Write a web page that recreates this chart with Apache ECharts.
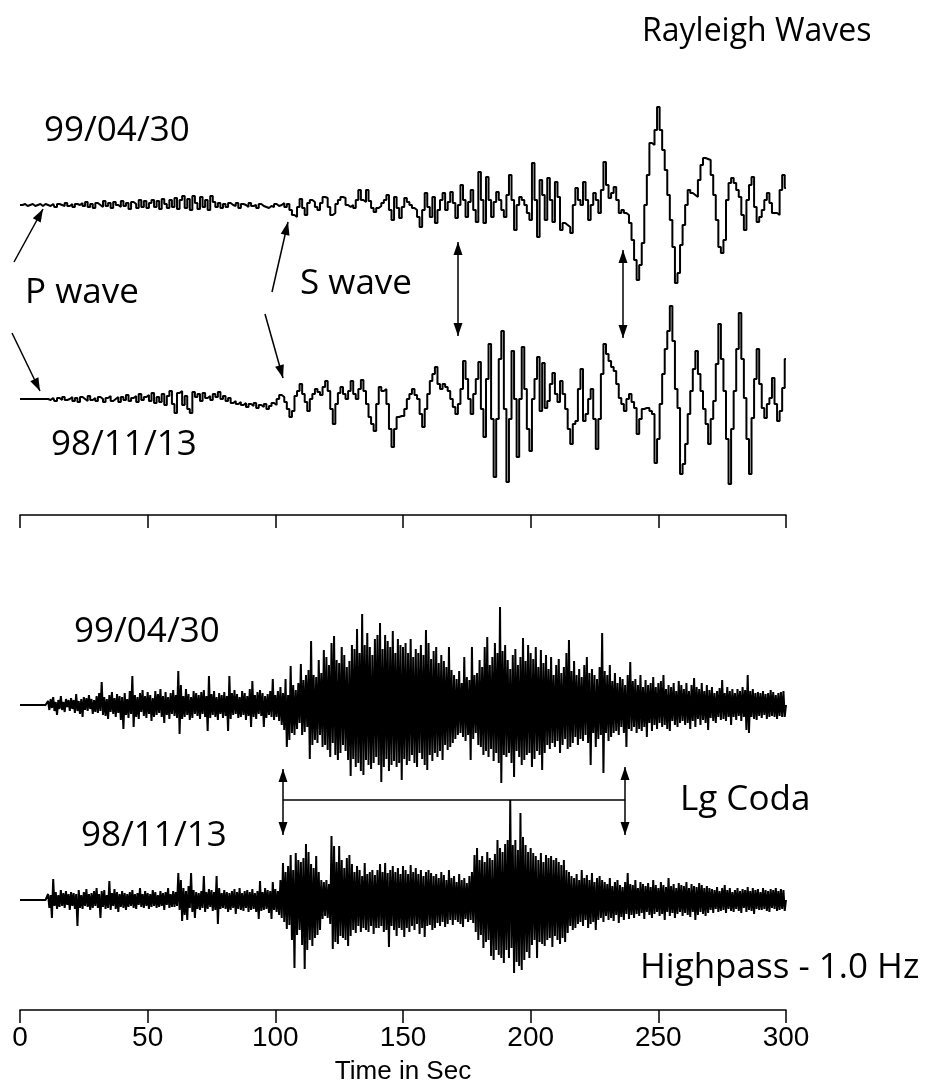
<!DOCTYPE html>
<html><head><meta charset="utf-8">
<script src="https://cdn.jsdelivr.net/npm/echarts@6/dist/echarts.min.js"></script>
<style>html,body{margin:0;padding:0;background:#fff}#c{width:931px;height:1089px}</style>
</head><body><div id="c"></div>
<script>
// ---- data ----
const timeTicks = [0, 50, 100, 150, 200, 250, 300];
const axisTitle = 'Time in Sec';
const lpStep = 1;    // seconds per sample, long-period traces
const hpStep = 0.5;  // seconds per sample, highpass traces

// Long-period (Rayleigh) trace, 99/04/30
const lp990430 = [
0,0,1,-1,0,1,-1,0,1,-1,
1,0,-1,1,-2,1,0,-1,2,-1,
1,-2,1,0,2,-1,3,-2,1,-3,
2,0,-2,4,-1,2,-3,3,0,-2,
4,-1,2,-4,3,1,-3,5,-2,4,
-3,2,5,-2,4,-4,6,1,-3,5,
-2,7,-4,5,9,-3,6,-5,9,2,
-4,8,-2,5,-5,9,3,-2,2,-3,
1,-2,2,0,-1,2,-3,1,0,-2,
2,-1,0,-3,1,-1,-2,-3,-1,-2,
1,-1,0,2,-2,1,-5,-10,-12,-2,
6,-3,-10,2,5,3,-2,-5,2,8,
7,-2,-10,-8,1,5,8,7,0,-2,
0,-3,5,15,5,3,15,4,-3,-7,
-3,-1,2,5,10,-5,-15,8,-3,-13,
-2,7,3,0,-3,-5,-12,-22,-5,12,
-2,-12,8,-18,-5,5,12,-5,3,13,
2,-13,0,20,5,-12,3,15,-5,-17,
33,5,-18,28,5,-12,3,13,5,-5,
-12,10,30,5,-25,0,8,5,0,-8,
-15,42,5,-32,25,10,-15,27,5,-17,
23,8,-25,-18,-20,-22,-28,0,17,5,
0,23,5,-15,0,12,5,-8,15,43,
20,7,12,18,5,-8,-5,-8,-10,-18,
-35,-55,-75,-60,-38,0,30,62,60,75,
98,75,55,35,10,-15,-42,-78,-68,-40,
-20,0,15,12,10,8,25,40,47,46,
45,30,10,-15,-42,-48,-35,5,22,27,
22,15,8,-10,-25,5,20,28,-2,-17,
-12,-5,5,12,2,-8,-8,-10,15,30,
17];

// Long-period (Rayleigh) trace, 98/11/13
const lp981113 = [
0,0,0,0,0,0,0,0,0,0,
0,0,-1,1,-2,1,-1,2,-1,0,
2,-2,1,-3,2,0,-2,3,-1,1,
-2,2,0,-3,1,3,-2,0,2,-3,
2,-1,4,-2,1,3,-3,5,-1,2,
4,-2,6,-4,2,-3,5,-6,3,8,
-5,-14,6,8,-6,3,-10,-14,7,2,
5,-2,6,1,3,-1,5,2,7,0,
3,-2,1,-4,-2,-5,-3,-6,-4,-8,
-5,-7,-4,-9,-6,-8,-5,-10,-7,-4,
-6,0,4,2,-3,-10,-18,-12,3,8,
15,5,-3,-12,0,5,10,7,4,12,
18,8,-10,-25,-5,6,12,5,0,8,
18,5,0,10,19,8,-5,-18,-25,-32,
-5,12,8,10,-5,-30,-48,-30,-18,-17,
-17,-10,0,5,10,4,0,-15,-28,-10,
5,18,25,32,15,10,15,12,8,0,
-8,-15,-5,10,38,20,0,-15,5,20,
37,-10,-38,20,55,-20,-78,-20,40,68,
-10,-83,-20,48,0,-58,0,52,10,-30,
-52,0,20,42,-12,36,-9,-2,15,26,
5,-3,18,5,-10,-30,-45,-25,-22,10,
30,-22,-15,0,10,-20,-50,-20,25,55,
45,38,32,28,15,1,-5,-12,0,5,
-3,-9,-35,-20,-10,-9,-9,-12,-15,-64,
-40,-5,25,50,68,93,58,10,-9,-75,
-65,-45,-15,8,30,48,25,8,-10,-25,
-45,-20,-2,35,75,40,8,-40,-85,-30,
8,50,86,40,1,-40,-75,-19,20,50,
15,-9,-19,-5,1,21,-5,-22,-12,11,
40];

// Highpass 1.0 Hz trace, 99/04/30
const hp990430 = [
0,0,0,0,0,0,0,0,0,0,0,0,0,0,0,0,0,0,0,0,
0,0,4,-5,6,-3,8,-6,3,-10,5,-4,9,-5,3,-7,6,-2,5,-6,
7,-4,5,-8,11,-6,4,-9,6,-12,8,-5,7,-6,10,-4,6,-9,5,-7,
9,-8,12,-6,23,-10,8,-11,6,-14,10,-7,13,-9,7,-12,11,-8,9,-15,
8,-24,12,-10,6,-13,14,-9,29,-22,10,-12,8,-14,12,-7,15,-11,9,-13,
13,-9,10,-16,7,-12,14,-10,11,-8,16,-12,9,-18,13,-10,8,-14,12,-9,
15,-11,10,-13,34,-29,20,-14,9,-12,16,-10,11,-15,8,-13,14,-9,12,-11,
10,-14,13,-9,15,-12,9,-26,29,-13,11,-10,14,-12,8,-15,12,-9,10,-13,
13,-11,9,-26,29,-14,12,-10,15,-9,11,-13,8,-12,14,-10,12,-15,9,-11,
16,-22,24,-12,10,-14,13,-9,15,-11,12,-22,9,-13,11,-10,14,-12,26,-15,
10,-12,14,-16,18,-20,12,-25,26,-42,10,-35,39,-28,20,-30,15,-24,22,-18,
41,-30,25,-27,30,-22,35,-54,64,-40,30,-35,28,-38,45,-30,32,-42,55,-40,
48,-45,40,-52,62,-38,69,-50,45,-55,42,-48,58,-40,50,-46,38,-55,44,-71,
60,-54,56,-62,76,-58,52,-66,91,-70,60,-55,72,-60,58,-64,50,-58,66,-52,
70,-60,82,-77,56,-62,70,-54,64,-66,58,-60,74,-56,52,-62,66,-58,60,-75,
58,-54,62,-60,52,-56,66,-50,48,-58,56,-62,52,-48,60,-54,50,-60,75,-65,
62,-50,46,-56,54,-48,58,-52,42,-46,50,-55,44,-40,38,-45,58,-42,35,-38,
30,-34,26,-30,34,-28,22,-32,48,-36,28,-30,25,-55,58,-34,30,-28,32,-40,
45,-42,38,-50,58,-46,68,-52,40,-44,48,-56,62,-48,52,-58,98,-78,54,-50,
60,-52,45,-48,36,-58,50,-72,56,-46,40,-52,48,-60,67,-55,44,-50,60,-48,
52,-62,46,-54,58,-46,38,-50,55,-65,42,-48,50,-40,36,-44,48,-38,30,-42,
40,-36,46,-48,32,-40,38,-34,52,-44,65,-42,34,-38,44,-32,30,-40,36,-34,
28,-36,40,-30,48,-38,32,-60,36,-28,30,-42,26,-34,38,-30,72,-68,34,-28,
30,-36,40,-32,24,-28,32,-26,22,-30,28,-22,26,-28,20,-42,30,-24,43,-26,
24,-22,26,-28,20,-24,30,-26,18,-22,25,-32,20,-18,22,-26,28,-20,18,-24,
22,-18,24,-22,30,-20,16,-24,20,-26,18,-16,22,-20,14,-22,24,-18,20,-16,
16,-20,22,-18,14,-24,20,-16,27,-22,18,-14,16,-20,22,-15,14,-18,20,-25,
15,-13,18,-16,12,-18,14,-12,17,-15,25,-14,12,-16,18,-12,14,-20,16,-12,
12,-15,16,-11,14,-16,18,-12,15,-25,30,-28,14,-12,16,-14,12,-15,13,-11,
12,-13,14,-10,11,-14,12,-12,15,-11,13,-12,10,-14,12,-11,13,-12,14,-12,
0];

// Highpass 1.0 Hz trace, 98/11/13
const hp981113 = [
0,0,0,0,0,0,0,0,0,0,0,0,0,0,0,0,0,0,0,0,
0,0,6,-8,5,-18,21,-6,8,-9,5,-7,10,-6,7,-8,9,-5,6,-10,
8,-6,7,-9,6,-26,10,-8,5,-9,8,-6,11,-7,6,-10,7,-8,9,-6,
12,-8,6,-18,9,-7,10,-9,5,-8,19,-10,7,-6,11,-9,8,-12,6,-7,
9,-8,7,-10,6,-7,8,-6,10,-8,6,-9,7,-5,12,-7,6,-8,9,-6,
7,-9,6,-7,10,-6,8,-8,5,-7,9,-6,7,-10,8,-5,12,-8,6,-7,
9,-7,8,-6,27,-10,20,-21,12,-15,9,-20,14,-8,27,-12,10,-18,8,-9,
7,-10,9,-8,24,-12,8,-9,11,-7,10,-11,8,-10,24,-24,12,-9,7,-8,
10,-9,8,-12,7,-10,9,-8,11,-14,8,-9,12,-10,7,-11,9,-8,10,-12,
8,-10,11,-9,7,-12,9,-19,19,-11,8,-10,12,-9,10,-13,9,-19,18,-10,
11,-12,9,-15,20,-18,37,-22,28,-29,34,-25,45,-40,30,-68,47,-35,40,-30,
38,-45,42,-69,56,-50,48,-40,36,-46,32,-38,44,-35,28,-30,20,-19,18,-16,
20,-18,16,-24,64,-49,54,-42,38,-44,54,-36,40,-38,32,-40,42,-46,45,-36,
36,-30,28,-33,34,-26,30,-32,24,-28,37,-30,26,-32,28,-26,30,-34,25,-28,
30,-28,36,-26,28,-32,37,-30,27,-47,30,-26,34,-30,28,-36,32,-28,26,-30,
34,-37,30,-28,26,-32,35,-26,28,-30,32,-24,26,-34,30,-28,24,-37,28,-26,
30,-25,27,-30,24,-28,26,-23,22,-26,28,-22,25,-27,20,-24,30,-20,22,-25,
24,-20,18,-22,26,-24,20,-27,22,-19,17,-22,24,-20,28,-23,45,-32,52,-40,
40,-35,44,-48,38,-42,48,-40,42,-56,40,-60,46,-50,60,-55,52,-58,48,-63,
56,-50,60,-58,100,-48,55,-73,60,-62,50,-66,87,-70,63,-60,55,-52,48,-58,
52,-45,47,-40,44,-58,40,-42,47,-44,38,-46,45,-40,42,-38,44,-47,40,-36,
42,-40,38,-44,35,-38,40,-42,30,-33,28,-26,24,-30,22,-28,26,-24,20,-22,
30,-26,22,-20,25,-28,20,-24,27,-22,18,-30,22,-20,24,-18,20,-22,18,-16,
16,-20,22,-18,14,-21,18,-15,20,-23,15,-17,13,-20,18,-14,27,-19,16,-15,
15,-18,20,-14,12,-16,18,-13,16,-19,14,-12,17,-15,13,-18,20,-14,15,-12,
12,-16,18,-14,15,-20,13,-12,22,-16,14,-13,16,-18,12,-14,17,-12,15,-16,
14,-13,18,-15,12,-17,16,-12,14,-20,13,-15,17,-12,15,-14,12,-16,14,-13,
12,-10,11,-13,10,-9,13,-12,9,-11,12,-10,15,-13,10,-9,12,-11,8,-12,
10,-9,12,-11,9,-13,11,-8,10,-12,13,-10,9,-11,12,-14,10,-9,11,-10,
8,-10,12,-9,10,-11,9,-12,11,-8,10,-9,12,-11,9,-10,11,-9,10,-11,
0];

// ---- layout / drawing ----
const FONT = "'Open Sans', 'Noto Sans', sans-serif";
const AXFONT = "'Liberation Sans Narrow', 'Liberation Sans', sans-serif";
const GRID_L = 20, GRID_R = 145;
const grids = [
  {left: GRID_L, right: GRID_R, top: 80, height: 435},
  {left: GRID_L, right: GRID_R, top: 560, height: 450}
];
const yRanges = [435, 450];
// baseline offsets of each trace inside its panel (panel units)
const traceDefs = [
  {data: lp990430, step: lpStep, grid: 0, base: 310, width: 2, stepMode: 'middle'},
  {data: lp981113, step: lpStep, grid: 0, base: 116, width: 2, stepMode: 'middle'},
  {data: hp990430, step: hpStep, grid: 1, base: 305, width: 2, stepMode: false},
  {data: hp981113, step: hpStep, grid: 1, base: 110, width: 2, stepMode: false}
];

function xAxisFor(i, showLabels) {
  return {
    type: 'value', gridIndex: i, min: timeTicks[0], max: timeTicks[timeTicks.length - 1],
    interval: timeTicks[1] - timeTicks[0], position: 'bottom',
    axisLine: {show: true, onZero: false, lineStyle: {color: '#000', width: 1.5}},
    axisTick: {show: true, inside: false, length: 13, lineStyle: {color: '#000', width: 1.5}},
    axisLabel: {show: showLabels, color: '#000', fontFamily: AXFONT, fontSize: 28, margin: 14},
    splitLine: {show: false},
    name: showLabels ? axisTitle : '', nameLocation: 'middle', nameGap: 49,
    nameTextStyle: {color: '#000', fontFamily: AXFONT, fontSize: 26}
  };
}

function arrowHead(x1, y1, x2, y2) {
  const dx = x2 - x1, dy = y2 - y1, len = Math.hypot(dx, dy);
  const ux = dx / len, uy = dy / len, L = 13, W = 4.5;
  const bx = x2 - ux * L, by = y2 - uy * L;
  return {type: 'polygon', shape: {points: [[x2, y2], [bx - uy * W, by + ux * W], [bx + uy * W, by - ux * W]]},
          style: {fill: '#000'}};
}
function line(x1, y1, x2, y2, w) {
  return {type: 'line', shape: {x1, y1, x2, y2}, style: {stroke: '#000', lineWidth: w || 1.5}};
}
function arrow(x1, y1, x2, y2) { return [line(x1, y1, x2, y2), arrowHead(x1, y1, x2, y2)]; }
function dblArrow(x1, y1, x2, y2) {
  return [line(x1, y1, x2, y2), arrowHead(x2, y2, x1, y1), arrowHead(x1, y1, x2, y2)];
}
function label(text, x, y, size) {
  return {type: 'text', x, y, style: {text, fill: '#000', font: (size || 35) + 'px ' + FONT, verticalAlign: 'middle'}};
}

const graphics = [].concat(
  label('Rayleigh Waves', 642, 32, 32),
  label('99/04/30', 44, 131),
  label('P wave', 25, 293),
  label('S wave', 300, 284),
  label('98/11/13', 51, 445),
  label('99/04/30', 74, 632),
  label('98/11/13', 81, 836),
  label('Lg Coda', 680, 800),
  label('Highpass - 1.0 Hz', 640, 968),
  arrow(14, 262, 43, 209),
  arrow(12, 333, 40, 391),
  arrow(272, 292, 288, 222),
  arrow(265, 314, 283, 378),
  dblArrow(458, 242, 458, 336),
  dblArrow(623, 250, 623, 338),
  dblArrow(283, 769, 283, 835),
  dblArrow(625, 767, 625, 835),
  line(283, 800, 625, 800)
);

const chart = echarts.init(document.getElementById('c'), null, {renderer: 'canvas'});
chart.setOption({
  animation: false,
  backgroundColor: '#fff',
  grid: grids,
  xAxis: [xAxisFor(0, false), xAxisFor(1, true)],
  yAxis: yRanges.map((mx, i) => ({type: 'value', gridIndex: i, min: 0, max: mx, show: false})),
  series: traceDefs.map(d => ({
    type: 'line', xAxisIndex: d.grid, yAxisIndex: d.grid,
    data: d.data.map((v, i) => [i * d.step, d.base + v]),
    showSymbol: false, step: d.stepMode, silent: true,
    lineStyle: {color: '#000', width: d.width}
  })),
  graphic: graphics
});
</script>
</body></html>
